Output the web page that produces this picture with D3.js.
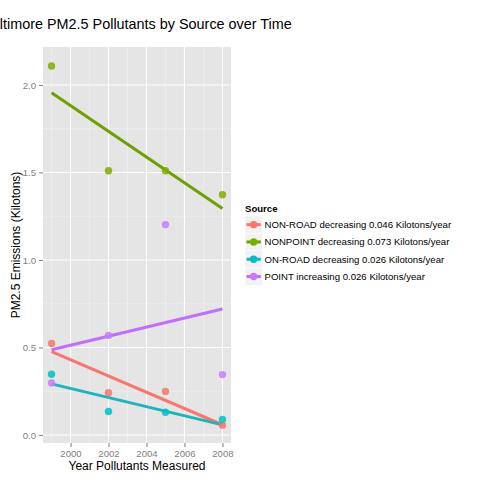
<!DOCTYPE html>
<html>
<head>
<meta charset="utf-8">
<script src="https://cdn.jsdelivr.net/npm/d3@7"></script>
<style>
  body { margin: 0; background: #fff; }
  text { font-family: "Liberation Sans", Arial, sans-serif; }
</style>
</head>
<body>
<script>
var years = [1999, 2002, 2005, 2008];
var sources = ["NON-ROAD", "NONPOINT", "ON-ROAD", "POINT"];
var nonRoad = [0.523, 0.241, 0.249, 0.056];
var nonPoint = [2.108, 1.510, 1.510, 1.373];
var onRoad = [0.347, 0.134, 0.130, 0.088];
var point = [0.297, 0.569, 1.202, 0.345];
var legendLabels = [
  "NON-ROAD decreasing 0.046 Kilotons/year",
  "NONPOINT decreasing 0.073 Kilotons/year",
  "ON-ROAD decreasing 0.026 Kilotons/year",
  "POINT increasing 0.026 Kilotons/year"
];
var xTicks = [2000, 2002, 2004, 2006, 2008];
var xMinor = [1999, 2001, 2003, 2005, 2007];
var yTicks = [0, 0.5, 1.0, 1.5, 2.0];
var yMinor = [0.25, 0.75, 1.25, 1.75];
var colors = ["#F8766D", "#7CAE00", "#00BFC4", "#C77CFF"];
var lineColors = ["#F8766D", "#6BA100", "#1DB4BC", "#BF6FFB"];

var seriesValues = [nonRoad, nonPoint, onRoad, point];

var width = 480, height = 480;
var panel = { left: 43, right: 231, top: 47, bottom: 443 };

var svg = d3.select("body").append("svg")
  .attr("width", width)
  .attr("height", height);

var x = d3.scaleLinear().domain([1998.55, 2008.45]).range([panel.left, panel.right]);
var y = d3.scaleLinear().domain([-0.046, 2.217]).range([panel.bottom, panel.top]);

// least squares fit, like stat_smooth(method = "lm")
function fit(vals) {
  var mx = d3.mean(years), my = d3.mean(vals);
  var sxy = d3.sum(years, function(d, i) { return (d - mx) * (vals[i] - my); });
  var sxx = d3.sum(years, function(d) { return (d - mx) * (d - mx); });
  var b = sxy / sxx;
  return function(t) { return my + b * (t - mx); };
}

svg.append("rect")
  .attr("x", panel.left).attr("y", panel.top)
  .attr("width", panel.right - panel.left)
  .attr("height", panel.bottom - panel.top)
  .attr("fill", "#E5E5E5");

var grid = svg.append("g");
grid.selectAll(".xminor").data(xMinor).enter().append("line")
  .attr("x1", function(d) { return x(d); }).attr("x2", function(d) { return x(d); })
  .attr("y1", panel.top).attr("y2", panel.bottom)
  .attr("stroke", "#F2F2F2").attr("stroke-width", 0.6);
grid.selectAll(".yminor").data(yMinor).enter().append("line")
  .attr("y1", function(d) { return y(d); }).attr("y2", function(d) { return y(d); })
  .attr("x1", panel.left).attr("x2", panel.right)
  .attr("stroke", "#F2F2F2").attr("stroke-width", 0.6);
grid.selectAll(".xmajor").data(xTicks).enter().append("line")
  .attr("x1", function(d) { return x(d); }).attr("x2", function(d) { return x(d); })
  .attr("y1", panel.top).attr("y2", panel.bottom)
  .attr("stroke", "#fff").attr("stroke-width", 1.1);
grid.selectAll(".ymajor").data(yTicks).enter().append("line")
  .attr("y1", function(d) { return y(d); }).attr("y2", function(d) { return y(d); })
  .attr("x1", panel.left).attr("x2", panel.right)
  .attr("stroke", "#fff").attr("stroke-width", 1.1);

// axes
var xAxis = svg.append("g")
  .attr("transform", "translate(0," + panel.bottom + ")")
  .call(d3.axisBottom(x).tickValues(xTicks).tickFormat(d3.format("d")).tickSize(4).tickPadding(3));
var yAxis = svg.append("g")
  .attr("transform", "translate(" + panel.left + ",0)")
  .call(d3.axisLeft(y).tickValues(yTicks).tickFormat(d3.format(".1f")).tickSize(4).tickPadding(3));
[xAxis, yAxis].forEach(function(a) {
  a.select(".domain").remove();
  a.selectAll("line").attr("stroke", "#7F7F7F");
  a.selectAll("text").attr("fill", "#7F7F7F")
    .style("font-size", "9.6px")
    .style("font-family", "Liberation Sans, Arial, sans-serif");
});

// fitted lines
var line = d3.line().x(function(d) { return x(d[0]); }).y(function(d) { return y(d[1]); });
seriesValues.forEach(function(vals, i) {
  var f = fit(vals);
  svg.append("path")
    .datum([[years[0], f(years[0])], [years[3], f(years[3])]])
    .attr("d", line)
    .attr("fill", "none")
    .attr("stroke", lineColors[i])
    .attr("stroke-width", 3);
});

// points
seriesValues.forEach(function(vals, i) {
  svg.append("g").selectAll("circle")
    .data(vals)
    .enter()
    .append("circle")
    .attr("cx", function(d, j) { return x(years[j]); })
    .attr("cy", function(d) { return y(d); })
    .attr("r", 3.7)
    .attr("fill", colors[i])
    .attr("fill-opacity", 0.85);
});

// titles
svg.append("text")
  .attr("x", (panel.left + panel.right) / 2).attr("y", 29)
  .attr("text-anchor", "middle")
  .style("font-size", "14.4px")
  .text("Baltimore PM2.5 Pollutants by Source over Time");
svg.append("text")
  .attr("x", (panel.left + panel.right) / 2).attr("y", 470)
  .attr("text-anchor", "middle")
  .style("font-size", "12px")
  .text("Year Pollutants Measured");
svg.append("text")
  .attr("transform", "translate(20," + ((panel.top + panel.bottom) / 2) + ") rotate(-90)")
  .attr("text-anchor", "middle")
  .style("font-size", "12px")
  .text("PM2.5 Emissions (Kilotons)");

// legend
var legend = svg.append("g").attr("transform", "translate(245,0)");
legend.append("text")
  .attr("x", 0).attr("y", 212)
  .style("font-size", "9.6px").style("font-weight", "bold")
  .text("Source");
var rows = legend.selectAll(".row").data(sources).enter().append("g")
  .attr("transform", function(d, i) { return "translate(0," + (216 + i * 17.3) + ")"; });
rows.append("rect")
  .attr("width", 17.3).attr("height", 17.3)
  .attr("fill", "#F2F2F2").attr("stroke", "#fff").attr("stroke-width", 0.5);
rows.append("line")
  .attr("x1", 1.5).attr("x2", 15.8).attr("y1", 8.65).attr("y2", 8.65)
  .attr("stroke", function(d, i) { return lineColors[i]; })
  .attr("stroke-width", 3);
rows.append("circle")
  .attr("cx", 8.65).attr("cy", 8.65).attr("r", 3.7)
  .attr("fill", function(d, i) { return colors[i]; });
rows.append("text")
  .attr("x", 19.5).attr("y", 12.2)
  .style("font-size", "9.6px")
  .text(function(d, i) { return legendLabels[i]; });
</script>
</body>
</html>
